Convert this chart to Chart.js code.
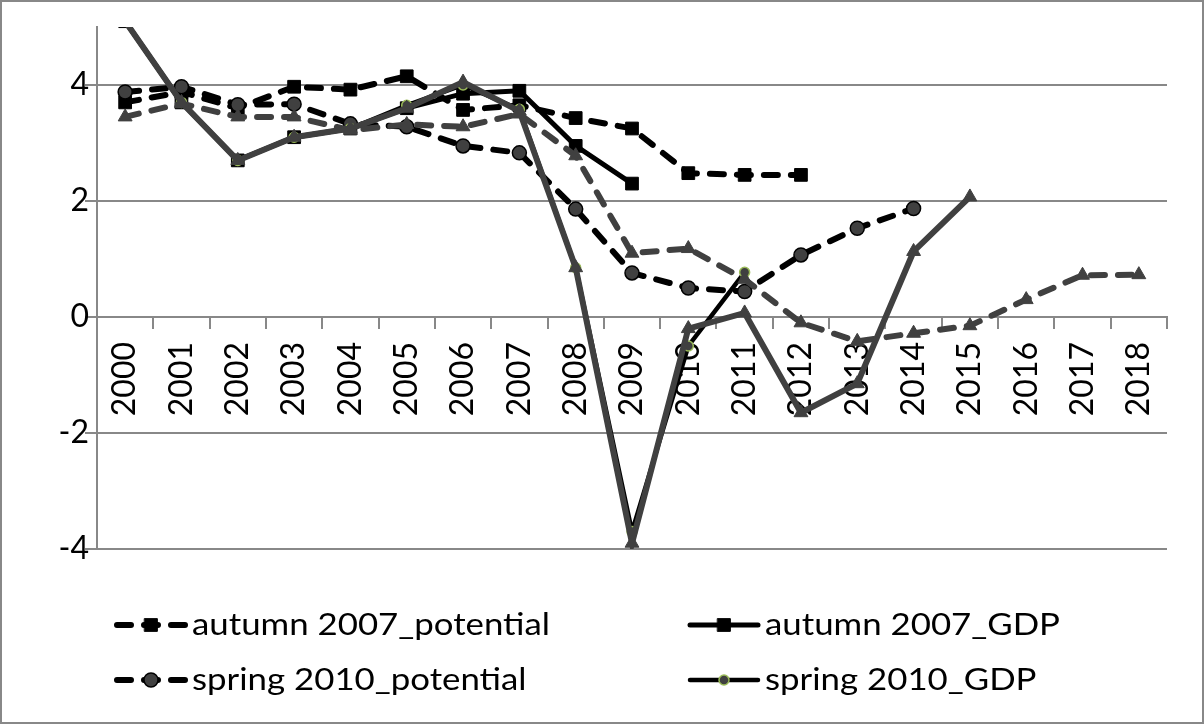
<!DOCTYPE html>
<html>
<head>
<meta charset="utf-8">
<title>Potential output and GDP forecasts</title>
<script src="https://cdn.jsdelivr.net/npm/chart.js@4.4.1/dist/chart.umd.min.js"></script>
<style>
    html, body { margin: 0; padding: 0; background: #fff; }
    canvas { display: block; }
</style>
</head>
<body>
<canvas id="chart" width="1204" height="724"></canvas>
<script>
const years = ['2000', '2001', '2002', '2003', '2004', '2005', '2006', '2007', '2008', '2009',
               '2010', '2011', '2012', '2013', '2014', '2015', '2016', '2017', '2018'];

// values (growth, %)
const autumn2007Potential = [3.7, 3.88, 3.6, 3.97, 3.92, 4.15, 3.57, 3.65, 3.43, 3.25, 2.48, 2.45, 2.45];
const autumn2007GDP = [5.1, 3.7, 2.7, 3.1, 3.25, 3.6, 3.85, 3.9, 2.95, 2.3];
const spring2010Potential = [3.88, 3.97, 3.66, 3.67, 3.33, 3.28, 2.95, 2.83, 1.86, 0.76, 0.5, 0.44, 1.07, 1.53, 1.87];
const spring2010GDP = [5.1, 3.7, 2.7, 3.1, 3.25, 3.65, 4.0, 3.58, 0.85, -3.7, -0.5, 0.77];
const spring2011Potential = [3.45, 3.68, 3.45, 3.45, 3.22, 3.32, 3.28, 3.5, 2.78, 1.1, 1.18, 0.65, -0.1, -0.42, -0.28, -0.15, 0.3, 0.72, 0.73];
const spring2011GDP = [5.1, 3.7, 2.7, 3.1, 3.25, 3.6, 4.05, 3.55, 0.85, -3.9, -0.2, 0.07, -1.65, -1.15, 1.13, 2.07];

const yTicks = [-4, -2, 0, 2, 4];

const GRID = '#888888';
const DARK = '#404040';
const DASH = [14, 13];

Chart.defaults.font.family = 'Lato';
Chart.defaults.color = '#000';

// frame round the whole picture
const framePlugin = {
    id: 'frame',
    beforeDraw(chart) {
        const c = chart.ctx;
        c.save();
        c.fillStyle = '#fff';
        c.fillRect(0, 0, chart.width, chart.height);
        c.strokeStyle = GRID;
        c.lineWidth = 2;
        c.strokeRect(1, 1, chart.width - 2, chart.height - 2);
        c.restore();
    }
};

// two-column legend like the spreadsheet one (only the first four series are listed)
const legendSlots = [[114, 625], [687, 625], [114, 680], [687, 680]];
const gridLegendPlugin = {
    id: 'gridLegend',
    afterDraw(chart) {
        const c = chart.ctx;
        const items = chart.data.datasets.filter(ds => ds.inLegend);
        items.forEach((ds, i) => {
            const [x, y] = legendSlots[i];
            c.save();
            c.strokeStyle = ds.borderColor;
            c.lineWidth = ds.borderWidth;
            c.lineCap = 'round';
            c.setLineDash(ds.borderDash || []);
            c.beginPath();
            c.moveTo(x + 3, y);
            c.lineTo(x + 71, y);
            c.stroke();
            c.setLineDash([]);
            c.fillStyle = ds.pointBackgroundColor;
            c.strokeStyle = ds.pointBorderColor;
            c.lineWidth = ds.pointBorderWidth;
            Chart.helpers.drawPoint(c, {
                pointStyle: ds.pointStyle,
                radius: ds.pointRadius,
                rotation: 0,
                borderWidth: ds.pointBorderWidth
            }, x + 37, y);
            // the spreadsheet text is a bit wider than Lato, stretch it a little
            c.translate(x + 78, y);
            c.scale(1.16, 1);
            c.fillStyle = '#000';
            c.font = '30px Lato';
            c.textBaseline = 'middle';
            c.fillText(ds.label, 0, 0);
            c.restore();
        });
    }
};

const ctx = document.getElementById('chart').getContext('2d');

new Chart(ctx, {
    type: 'line',
    data: {
        labels: years,
        datasets: [
            {
                label: 'autumn 2007_potential',
                data: autumn2007Potential,
                inLegend: true,
                order: 6,
                borderColor: '#000',
                borderWidth: 6,
                borderDash: DASH,
                borderCapStyle: 'round',
                pointStyle: 'rect',
                pointRadius: 9,
                pointBackgroundColor: '#000',
                pointBorderColor: '#000',
                pointBorderWidth: 1
            },
            {
                label: 'autumn 2007_GDP',
                data: autumn2007GDP,
                inLegend: true,
                order: 5,
                borderColor: '#000',
                borderWidth: 5,
                pointStyle: 'rect',
                pointRadius: 9,
                pointBackgroundColor: '#000',
                pointBorderColor: '#000',
                pointBorderWidth: 1
            },
            {
                label: 'spring 2010_potential',
                data: spring2010Potential,
                inLegend: true,
                order: 4,
                borderColor: '#000',
                borderWidth: 6,
                borderDash: DASH,
                borderCapStyle: 'round',
                pointStyle: 'circle',
                pointRadius: 7,
                pointBackgroundColor: DARK,
                pointBorderColor: '#000',
                pointBorderWidth: 1.5
            },
            {
                label: 'spring 2010_GDP',
                data: spring2010GDP,
                inLegend: true,
                order: 3,
                borderColor: '#000',
                borderWidth: 4.5,
                pointStyle: 'circle',
                pointRadius: 5,
                pointBackgroundColor: DARK,
                pointBorderColor: '#9bbb59',
                pointBorderWidth: 1.5
            },
            {
                label: 'spring 2011_potential',
                data: spring2011Potential,
                order: 2,
                borderColor: DARK,
                borderWidth: 6,
                borderDash: DASH,
                borderCapStyle: 'round',
                pointStyle: 'triangle',
                pointRadius: 8,
                pointBackgroundColor: DARK,
                pointBorderColor: DARK,
                pointBorderWidth: 1
            },
            {
                label: 'spring 2011_GDP',
                data: spring2011GDP,
                order: 1,
                borderColor: DARK,
                borderWidth: 6,
                pointStyle: 'triangle',
                pointRadius: 8,
                pointBackgroundColor: DARK,
                pointBorderColor: DARK,
                pointBorderWidth: 1
            }
        ].map(ds => ({ ...ds, tension: 0, fill: false, clip: 0, spanGaps: false }))
    },
    options: {
        responsive: false,
        animation: false,
        layout: {
            padding: { left: 0, right: 37, top: 27, bottom: 175 }
        },
        plugins: {
            legend: { display: false },
            tooltip: { enabled: false }
        },
        scales: {
            x: {
                type: 'category',
                position: { y: 0 },
                offset: true,
                grid: {
                    offset: true,
                    drawOnChartArea: false,
                    drawTicks: true,
                    tickLength: 11,
                    color: GRID,
                    lineWidth: 2
                },
                border: { display: true, color: GRID, width: 2 },
                ticks: {
                    autoSkip: false,
                    maxRotation: 90,
                    minRotation: 90,
                    padding: 14,
                    font: { size: 32 },
                    color: '#000'
                }
            },
            y: {
                min: -4,
                max: 5,
                afterFit(scale) {
                    // fixed axis width, and no extra room above/below for the labels
                    scale.width = 97;
                    scale.paddingTop = 0;
                    scale.paddingBottom = 0;
                },
                afterBuildTicks(scale) {
                    scale.ticks = yTicks.map(v => ({ value: v }));
                },
                grid: {
                    color: GRID,
                    lineWidth: 2,
                    drawTicks: true,
                    tickLength: 12
                },
                border: { display: true, color: GRID, width: 2 },
                ticks: {
                    padding: -4,
                    font: { size: 32 },
                    color: '#000'
                }
            }
        }
    },
    plugins: [framePlugin, gridLegendPlugin]
});
</script>
</body>
</html>
